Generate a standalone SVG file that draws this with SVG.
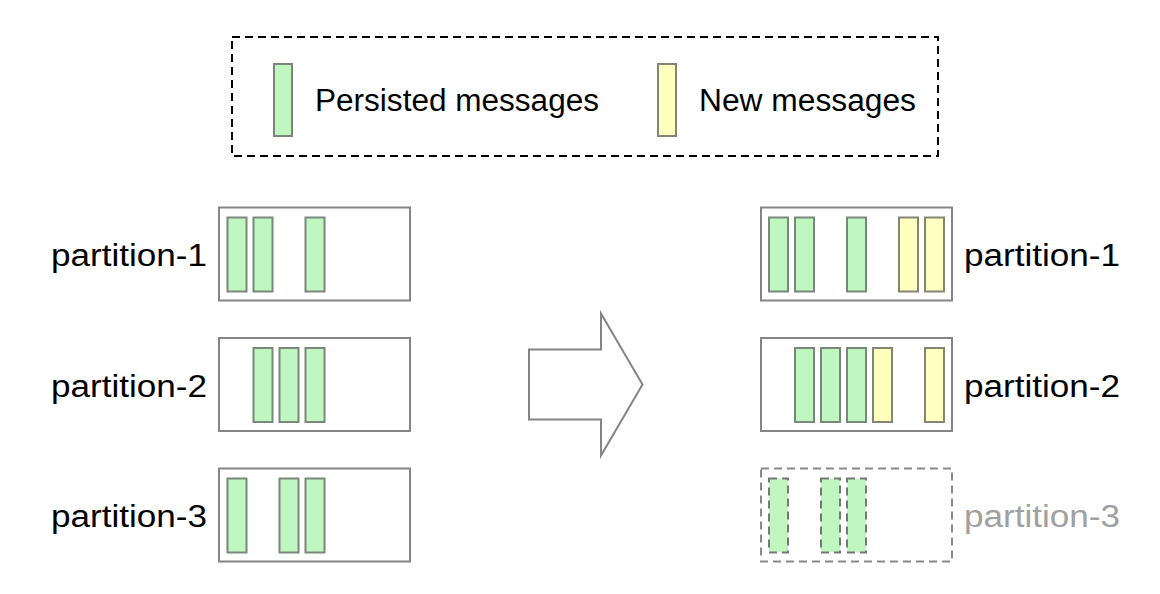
<svg xmlns="http://www.w3.org/2000/svg" width="1160" height="594" viewBox="0 0 1160 594">
<style>
.box{fill:#fff;stroke:#858585;stroke-width:2}
.dbox{fill:none;stroke:#8a8a8a;stroke-width:2;stroke-dasharray:8 5}
.g{fill:#c0f7c0;stroke:#7b877b;stroke-width:2}
.y{fill:#ffffc0;stroke:#858575;stroke-width:2}
.gd{fill:#c0f7c0;stroke:#777;stroke-width:2;stroke-dasharray:8 5}
.t{font-family:"Liberation Sans",Arial,sans-serif;font-size:31px;fill:#000}
.tg{font-family:"Liberation Sans",Arial,sans-serif;font-size:31px;fill:#a0a0a0}
</style>
<rect width="1160" height="594" fill="#fff"/>
<g id="legend">
<rect x="232" y="37" width="706" height="119" fill="none" stroke="#000" stroke-width="2" stroke-dasharray="8 5"/>
<rect class="g" x="274" y="64" width="18" height="72"/>
<text class="t" x="315" y="111" textLength="284" lengthAdjust="spacingAndGlyphs">Persisted messages</text>
<rect class="y" x="658" y="64" width="18" height="72"/>
<text class="t" x="699" y="111" textLength="217" lengthAdjust="spacingAndGlyphs">New messages</text>
</g>
<g id="left-p1">
<rect class="box" x="219" y="207.5" width="191" height="93"/>
<rect class="g" x="227.5" y="217.5" width="19" height="74"/>
<rect class="g" x="253.5" y="217.5" width="19" height="74"/>
<rect class="g" x="305.5" y="217.5" width="19" height="74"/>
<text class="t" x="207" y="266" text-anchor="end" textLength="156" lengthAdjust="spacingAndGlyphs">partition-1</text>
</g>
<g id="left-p2">
<rect class="box" x="219" y="338" width="191" height="93"/>
<rect class="g" x="253.5" y="348" width="19" height="74"/>
<rect class="g" x="279.5" y="348" width="19" height="74"/>
<rect class="g" x="305.5" y="348" width="19" height="74"/>
<text class="t" x="207" y="396.5" text-anchor="end" textLength="156" lengthAdjust="spacingAndGlyphs">partition-2</text>
</g>
<g id="left-p3">
<rect class="box" x="219" y="468.5" width="191" height="93"/>
<rect class="g" x="227.5" y="478.5" width="19" height="74"/>
<rect class="g" x="279.5" y="478.5" width="19" height="74"/>
<rect class="g" x="305.5" y="478.5" width="19" height="74"/>
<text class="t" x="207" y="527" text-anchor="end" textLength="156" lengthAdjust="spacingAndGlyphs">partition-3</text>
</g>
<g id="connectors">
<polygon points="529,349.5 601,349.5 601,313.5 642.5,384.5 601,455.5 601,419.5 529,419.5" fill="#fff" stroke="#858585" stroke-width="2"/>
</g>
<g id="right-p1">
<rect class="box" x="761" y="207.5" width="191" height="93"/>
<rect class="g" x="769" y="217.5" width="19" height="74"/>
<rect class="g" x="795" y="217.5" width="19" height="74"/>
<rect class="g" x="847" y="217.5" width="19" height="74"/>
<rect class="y" x="899" y="217.5" width="19" height="74"/>
<rect class="y" x="925" y="217.5" width="19" height="74"/>
<text class="t" x="964" y="266" textLength="156" lengthAdjust="spacingAndGlyphs">partition-1</text>
</g>
<g id="right-p2">
<rect class="box" x="761" y="338" width="191" height="93"/>
<rect class="g" x="795" y="348" width="19" height="74"/>
<rect class="g" x="821" y="348" width="19" height="74"/>
<rect class="g" x="847" y="348" width="19" height="74"/>
<rect class="y" x="873" y="348" width="19" height="74"/>
<rect class="y" x="925" y="348" width="19" height="74"/>
<text class="t" x="964" y="396.5" textLength="156" lengthAdjust="spacingAndGlyphs">partition-2</text>
</g>
<g id="right-p3">
<rect class="dbox" x="761" y="468.5" width="191" height="93"/>
<rect class="gd" x="769" y="478.5" width="19" height="74"/>
<rect class="gd" x="821" y="478.5" width="19" height="74"/>
<rect class="gd" x="847" y="478.5" width="19" height="74"/>
<text class="tg" x="964" y="527" textLength="156" lengthAdjust="spacingAndGlyphs">partition-3</text>
</g>
</svg>
